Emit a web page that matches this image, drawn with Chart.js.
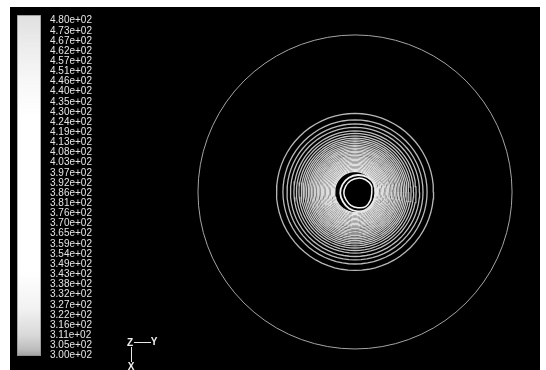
<!DOCTYPE html>
<html>
<head>
<meta charset="utf-8">
<script src="https://cdn.jsdelivr.net/npm/chart.js@4/dist/chart.umd.min.js"></script>
<style>
  body { margin: 0; background: #fff; width: 546px; height: 370px; overflow: hidden; }
  #frame { position: absolute; left: 10px; top: 7px; width: 530px; height: 363px; background: #000; }
  #contours { position: absolute; left: 0; top: 0; }
  #colorbar { position: absolute; left: 7px; top: -2px; }
</style>
</head>
<body>
<div id="frame">
  <canvas id="contours" width="530" height="363"></canvas>
  <canvas id="colorbar" width="84" height="361"></canvas>
</div>
<script>
// legend levels (static temperature, top to bottom)
const levelLabels = [
    '4.80e+02', '4.73e+02', '4.67e+02', '4.62e+02', '4.57e+02', '4.51e+02', '4.46e+02',
    '4.40e+02', '4.35e+02', '4.30e+02', '4.24e+02', '4.19e+02', '4.13e+02', '4.08e+02',
    '4.03e+02', '3.97e+02', '3.92e+02', '3.86e+02', '3.81e+02', '3.76e+02', '3.70e+02',
    '3.65e+02', '3.59e+02', '3.54e+02', '3.49e+02', '3.43e+02', '3.38e+02', '3.32e+02',
    '3.27e+02', '3.22e+02', '3.16e+02', '3.11e+02', '3.05e+02', '3.00e+02'
];

// contour radii, as a fraction of the outer wall radius (outermost first)
const ringRadius = [
    1.000, 0.500, 0.459, 0.433, 0.411, 0.389, 0.373, 0.357, 0.343, 0.331,
    0.320, 0.309, 0.298, 0.288, 0.278, 0.269, 0.260, 0.251, 0.242, 0.233,
    0.224, 0.216, 0.208, 0.200, 0.192, 0.184, 0.176, 0.168, 0.160, 0.152,
    0.144, 0.137, 0.130
];

// the two contours round the cold core, radius read at each angle
const holeAngles = [0, 30, 60, 90, 120, 150, 180, 210, 240, 270, 300, 330];
const holeInner = [0.089, 0.099, 0.099, 0.096, 0.092, 0.089, 0.089, 0.086, 0.089, 0.092, 0.099, 0.092];
const holeOuter = [0.112, 0.119, 0.119, 0.116, 0.114, 0.112, 0.112, 0.109, 0.112, 0.116, 0.121, 0.114];
const holeCenter = { x: 0.018, y: -0.008 };

function ringPoints(r) {
    const pts = [];
    for (let a = 0; a <= 360; a += 5) {
        const t = a * Math.PI / 180;
        pts.push({ x: r * Math.cos(t), y: r * Math.sin(t) });
    }
    return pts;
}

function shapePoints(radii) {
    const pts = holeAngles.map((a, i) => {
        const t = a * Math.PI / 180;
        return { x: holeCenter.x + radii[i] * Math.cos(t), y: holeCenter.y + radii[i] * Math.sin(t) };
    });
    pts.push(pts[0]);
    return pts;
}

const datasets = ringRadius.map((r, i) => {
    let g = i === 0 ? 0xa4 : Math.round(0xb8 + (0xe8 - 0xb8) * (i - 1) / (ringRadius.length - 2));
    const c = `rgb(${g},${g},${g})`;
    return { data: ringPoints(r), borderColor: c, borderWidth: i === 0 ? 1 : 1.3, pointRadius: 0, showLine: true };
});
datasets.push({ data: shapePoints(holeOuter), borderColor: '#f2f2f2', borderWidth: 1.8, pointRadius: 0, showLine: true, tension: 0.4 });
datasets.push({ data: shapePoints(holeInner), borderColor: '#f6f6f6', borderWidth: 1.5, pointRadius: 0, showLine: true, tension: 0.4 });

// small Z-Y-X orientation triad in the lower left
const triad = {
    id: 'triad',
    afterDraw(chart) {
        const ctx = chart.ctx;
        ctx.save();
        ctx.strokeStyle = '#e8e8e8';
        ctx.lineWidth = 1;
        ctx.beginPath();
        ctx.moveTo(124, 335.5); ctx.lineTo(141, 335.5);
        ctx.moveTo(121.5, 340); ctx.lineTo(121.5, 355);
        ctx.stroke();
        ctx.fillStyle = '#f0f0f0';
        ctx.font = 'bold 10px "Liberation Sans"';
        ctx.textAlign = 'center';
        ctx.textBaseline = 'middle';
        ctx.fillText('Z', 120, 336);
        ctx.fillText('Y', 144, 335);
        ctx.fillText('X', 121, 360);
        ctx.restore();
    }
};

new Chart(document.getElementById('contours'), {
    type: 'scatter',
    data: { datasets: datasets },
    options: {
        responsive: false,
        animation: false,
        layout: { padding: 0 },
        plugins: { legend: { display: false }, tooltip: { enabled: false } },
        scales: {
            x: { type: 'linear', display: false, min: -2.197, max: 1.178 },
            y: { type: 'linear', display: false, min: -1.134, max: 1.178 }
        }
    },
    plugins: [triad]
});

new Chart(document.getElementById('colorbar'), {
    type: 'bar',
    data: {
        labels: [''],
        datasets: [{
            data: [[-0.05, 33.56]],
            backgroundColor: (c) => {
                const area = c.chart.chartArea;
                if (!area) return '#fff';
                const g = c.chart.ctx.createLinearGradient(0, area.top, 0, area.bottom);
                g.addColorStop(0, '#e0e0e0');
                g.addColorStop(0.08, '#ebebeb');
                g.addColorStop(0.2, '#f8f8f8');
                g.addColorStop(0.3, '#ffffff');
                g.addColorStop(0.75, '#ffffff');
                g.addColorStop(0.86, '#f2f2f2');
                g.addColorStop(0.94, '#d8d8d8');
                g.addColorStop(0.98, '#bdbdbd');
                g.addColorStop(1, '#a0a0a0');
                return g;
            },
            borderColor: '#8a8a8a',
            borderWidth: 1,
            borderSkipped: false,
            barPercentage: 1,
            categoryPercentage: 1
        }]
    },
    options: {
        responsive: false,
        animation: false,
        layout: { padding: { top: 10, bottom: 10, left: 0, right: 0 } },
        plugins: { legend: { display: false }, tooltip: { enabled: false } },
        scales: {
            x: { display: false },
            y: {
                position: 'right',
                min: -0.05,
                max: 33.56,
                grid: { display: false, drawTicks: false },
                border: { display: false },
                ticks: {
                    color: '#e6e6e6',
                    font: { family: 'Liberation Sans', size: 10 },
                    padding: 9,
                    autoSkip: false,
                    callback: (v) => levelLabels[33 - v]
                },
                afterBuildTicks: (s) => { s.ticks = levelLabels.map((_, i) => ({ value: i })); },
                afterFit: (s) => { s.width = 60; s.paddingTop = 0; s.paddingBottom = 0; }
            }
        }
    }
});
</script>
</body>
</html>
